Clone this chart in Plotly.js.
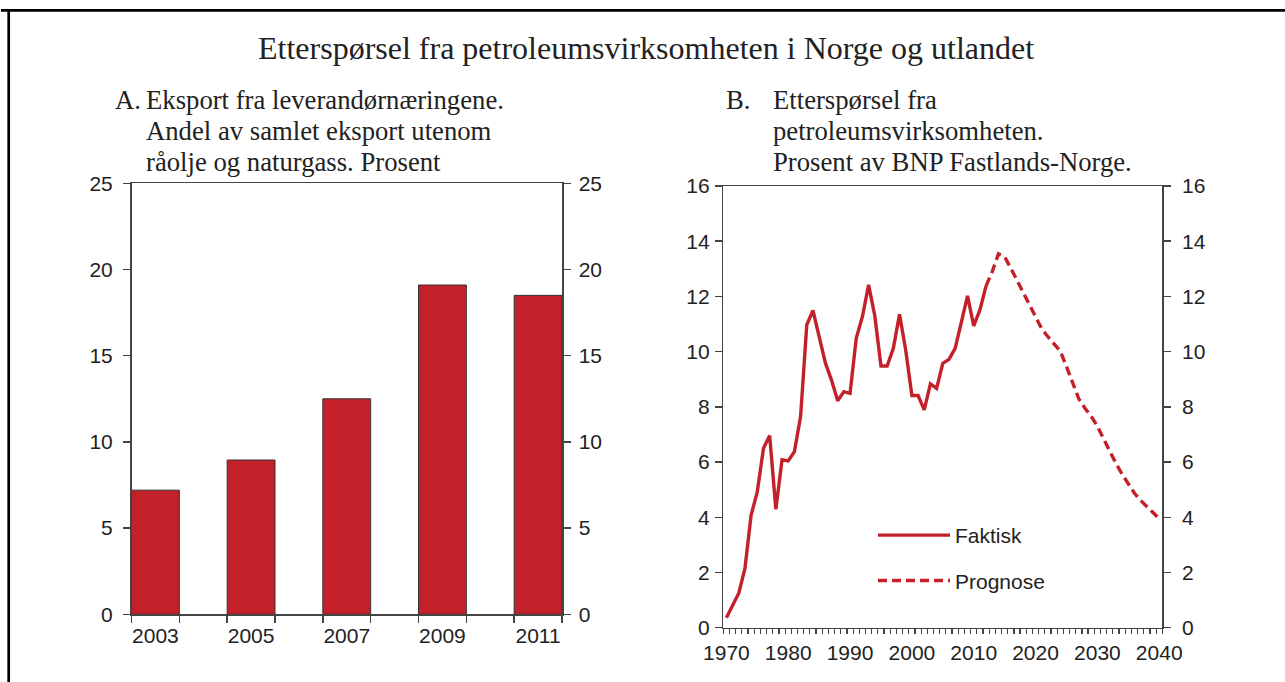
<!DOCTYPE html>
<html>
<head>
<meta charset="utf-8">
<script src="https://cdn.plot.ly/plotly-3.0.1.min.js"></script>
<style>
html,body{margin:0;padding:0;background:#fff;}
#chart{width:1285px;height:682px;}
</style>
</head>
<body>
<div id="chart"></div>
<script>
// ---- Data ----
var barCategories = ['2003','2004','2005','2006','2007','2008','2009','2010','2011'];
var barTickText   = ['2003','','2005','','2007','','2009','','2011'];
var barYears  = ['2003','2005','2007','2009','2011'];
var barValues = [7.2, 8.95, 12.5, 19.1, 18.5];

var faktiskYears = [1970,1971,1972,1973,1974,1975,1976,1977,1978,1979,
                    1980,1981,1982,1983,1984,1985,1986,1987,1988,1989,
                    1990,1991,1992,1993,1994,1995,1996,1997,1998,1999,
                    2000,2001,2002,2003,2004,2005,2006,2007,2008,2009,
                    2010,2011,2012];
var faktiskValues = [0.36,0.8,1.25,2.15,4.08,4.93,6.5,6.96,4.29,6.08,
                     6.04,6.38,7.65,10.97,11.49,10.54,9.6,8.97,8.22,8.55,
                     8.49,10.48,11.27,12.42,11.3,9.48,9.48,10.12,11.35,10.06,
                     8.41,8.41,7.89,8.83,8.67,9.58,9.72,10.12,11.03,12.02,
                     10.93,11.51,12.38];
var prognoseYears = [2012,2013,2014,2015,2016,2017,2018,2019,2020,2021,
                     2022,2023,2024,2025,2026,2027,2028,2029,2030,2031,
                     2032,2033,2034,2035,2036,2037,2038,2039,2040];
var prognoseValues = [12.38,12.9,13.54,13.44,13.02,12.57,12.18,11.68,11.22,10.83,
                      10.54,10.3,10.02,9.46,8.85,8.29,7.95,7.66,7.3,6.83,
                      6.39,5.95,5.56,5.2,4.87,4.61,4.37,4.17,3.95];
var lineTickVals = [1970,1980,1990,2000,2010,2020,2030,2040];

var seriesNames = ['Faktisk','Prognose'];
var mainTitle = 'Etterspørsel fra petroleumsvirksomheten i Norge og utlandet';
var titleA = ['A.', 'Eksport fra leverandørnæringene.', 'Andel av samlet eksport utenom', 'råolje og naturgass. Prosent'];
var titleB = ['B.', 'Etterspørsel fra', 'petroleumsvirksomheten.', 'Prosent av BNP Fastlands-Norge.'];

// ---- Style ----
var W = 1285, H = 682;
var RED = '#C4202A';
var AX = '#444';
var TXT = '#222';
var SANS = 'Liberation Sans, Arial, sans-serif';
var SERIF = 'Liberation Serif, Times New Roman, serif';
function px(x){return x / W;}
function py(y){return 1 - y / H;}

var tickFont = {family: SANS, size: 21, color: TXT};

var traces = [
  {type:'bar', x: barYears, y: barValues, xaxis:'x', yaxis:'y',
   marker:{color: RED, line:{color:'#333', width:1}}, showlegend:false, hoverinfo:'x+y'},
  // invisible companions so that the right-hand value axes are drawn
  {type:'scatter', mode:'markers', x: barYears, y: barValues, xaxis:'x', yaxis:'y3',
   marker:{opacity:0}, showlegend:false, hoverinfo:'skip'},
  {type:'scatter', mode:'markers', x: faktiskYears, y: faktiskValues, xaxis:'x2', yaxis:'y4',
   marker:{opacity:0}, showlegend:false, hoverinfo:'skip'},
  {type:'scatter', mode:'lines', x: faktiskYears, y: faktiskValues, xaxis:'x2', yaxis:'y2',
   name: seriesNames[0], legendgroup:'g1',
   line:{color: RED, width:3.4}},
  {type:'scatter', mode:'lines', x: prognoseYears, y: prognoseValues, xaxis:'x2', yaxis:'y2',
   name: seriesNames[1], legendgroup:'g2',
   line:{color: RED, width:3.4, dash:'9px,5px'}}
];

var dA = [px(131.5), px(562)];
var dAy = [py(614.3), py(183.3)];
var dB = [px(723.3), px(1162.3)];
var dBy = [py(627.7), py(186)];

function yax(extra){
  return Object.assign({showline:true, linecolor:AX, linewidth:1.5, ticks:'outside', ticklen:7, tickwidth:1.5,
    tickcolor:AX, showgrid:false, zeroline:false, tickfont:tickFont, fixedrange:true}, extra);
}

var layout = {
  width: W, height: H,
  margin:{l:0, r:0, t:0, b:0},
  paper_bgcolor:'#fff', plot_bgcolor:'#fff',
  bargap: 0,
  showlegend: true,
  legend:{x: px(873), y: py(515), xanchor:'left', yanchor:'top',
    bgcolor:'rgba(0,0,0,0)', font:{family: SANS, size:21, color: TXT},
    itemwidth: 72, tracegroupgap: 15},
  xaxis:{domain: dA, anchor:'y', type:'category', categoryorder:'array', categoryarray: barCategories,
    tickmode:'array', tickvals: barCategories, ticktext: barTickText, tickson:'boundaries', tickangle:0,
    showline:true, mirror:true, linecolor:AX, linewidth:1.5, ticks:'outside', ticklen:7, tickwidth:1.5, tickcolor:AX,
    showgrid:false, tickfont: tickFont, range:[-0.5, 8.5], ticklabelstandoff: 2},
  yaxis: yax({domain: dAy, anchor:'x', range:[0,25], dtick:5, tick0:0, ticklabelstandoff:6}),
  yaxis3: yax({overlaying:'y', side:'right', anchor:'x', range:[0,25], dtick:5, tick0:0, ticklabelstandoff:4}),
  xaxis2:{domain: dB, anchor:'y2', range:[1969.5, 2040.5], tickmode:'array', tickvals: lineTickVals, tickangle:0,
    showline:true, mirror:true, linecolor:AX, linewidth:1.5, ticks:'', showgrid:false, zeroline:false,
    tickfont: tickFont, ticklabelstandoff: 6,
    minor:{ticks:'outside', tick0:1969.5, dtick:1, ticklen:5, tickwidth:1.2, tickcolor:AX, showgrid:false}},
  yaxis2: yax({domain: dBy, anchor:'x2', range:[0,16], dtick:2, tick0:0, ticklabelstandoff:1}),
  yaxis4: yax({overlaying:'y2', side:'right', anchor:'x2', range:[0,16], dtick:2, tick0:0, ticklabelstandoff:7}),
  annotations: [],
  shapes: [
    {type:'line', xref:'paper', yref:'paper', x0: px(1), x1: 1, y0: py(10.3), y1: py(10.3), line:{color:'#000', width:2.7}},
    {type:'line', xref:'paper', yref:'paper', x0: px(8.7), x1: px(8.7), y0: py(9), y1: 0, line:{color:'#000', width:2.7}}
  ]
};

function ann(text, x, y, size, anchor){
  return {text: text, xref:'paper', yref:'paper', x: px(x), y: py(y), xanchor: anchor || 'left', yanchor:'middle',
    showarrow:false, font:{family: SERIF, size: size, color: TXT}};
}
layout.annotations.push(ann(mainTitle, 645.5, 48, 32, 'center'));
var lineYs = [100, 131, 162];
var subSize = 26.7;
layout.annotations.push(ann(titleA[0], 113, lineYs[0], subSize));
layout.annotations.push(ann(titleA[1], 144, lineYs[0], subSize));
layout.annotations.push(ann(titleA[2], 144, lineYs[1], subSize));
layout.annotations.push(ann(titleA[3], 144, lineYs[2], subSize));
layout.annotations.push(ann(titleB[0], 724, lineYs[0], subSize));
layout.annotations.push(ann(titleB[1], 771, lineYs[0], subSize));
layout.annotations.push(ann(titleB[2], 771, lineYs[1], subSize));
layout.annotations.push(ann(titleB[3], 771, lineYs[2], subSize));

Plotly.newPlot('chart', traces, layout, {displayModeBar:false, staticPlot:true});
</script>
</body>
</html>
